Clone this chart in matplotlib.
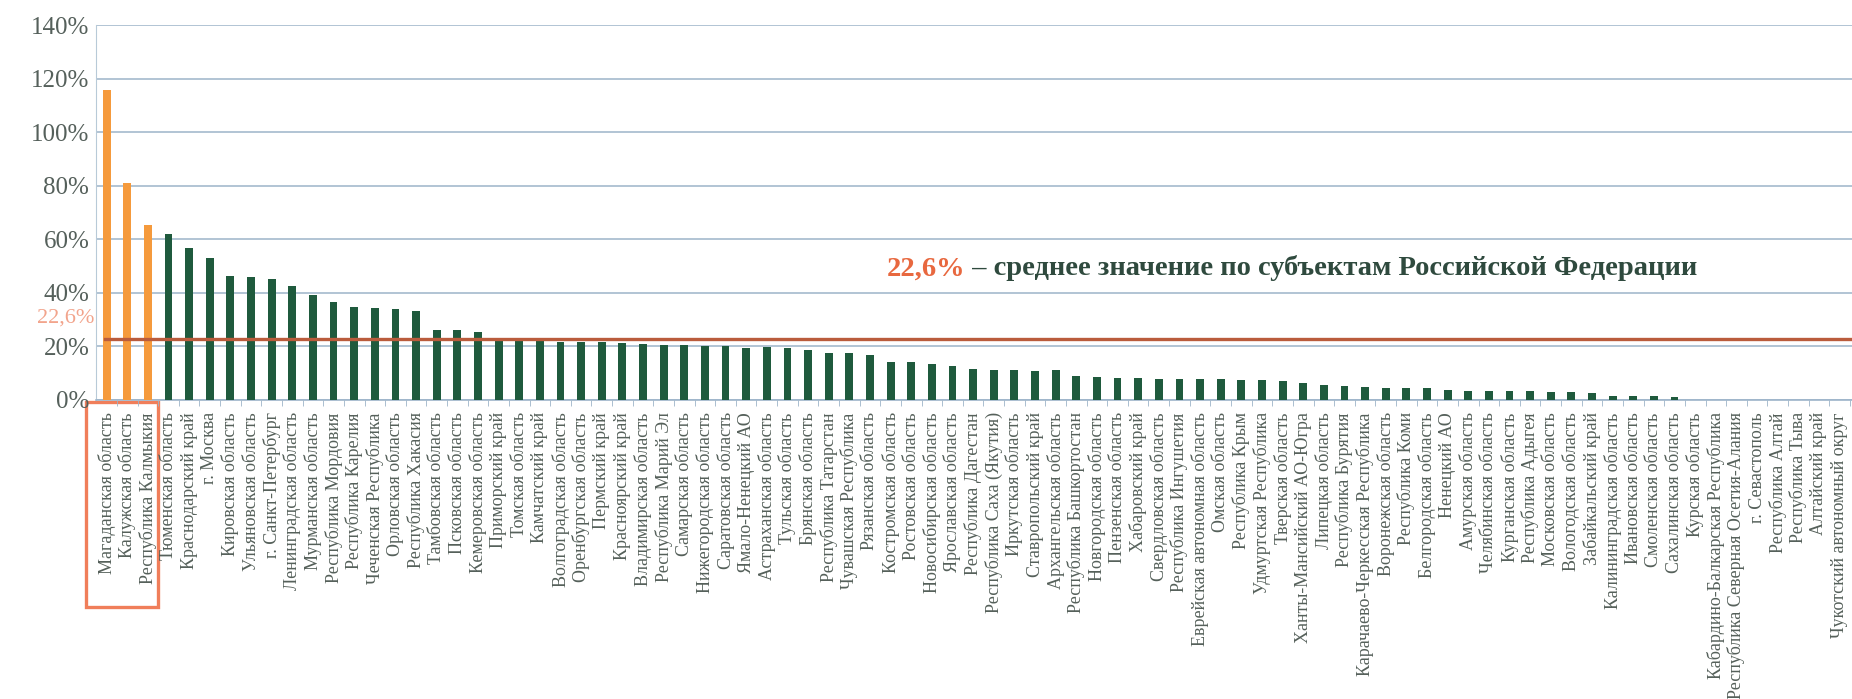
#!/usr/bin/env python3
"""Share by region bar chart with the federal mean line"""

import numpy as np
import matplotlib

matplotlib.use("Agg")
import matplotlib.pyplot as plt
from matplotlib.patches import Rectangle
from matplotlib.ticker import FixedLocator, PercentFormatter

regions = [
    "Магаданская область", "Калужская область", "Республика Калмыкия",
    "Тюменская область", "Краснодарский край", "г. Москва",
    "Кировская область", "Ульяновская область", "г. Санкт-Петербург",
    "Ленинградская область", "Мурманская область", "Республика Мордовия",
    "Республика Карелия", "Чеченская Республика", "Орловская область",
    "Республика Хакасия", "Тамбовская область", "Псковская область",
    "Кемеровская область", "Приморский край", "Томская область",
    "Камчатский край", "Волгоградская область", "Оренбургская область",
    "Пермский край", "Красноярский край", "Владимирская область",
    "Республика Марий Эл", "Самарская область", "Нижегородская область",
    "Саратовская область", "Ямало-Ненецкий АО", "Астраханская область",
    "Тульская область", "Брянская область", "Республика Татарстан",
    "Чувашская Республика", "Рязанская область", "Костромская область",
    "Ростовская область", "Новосибирская область", "Ярославская область",
    "Республика Дагестан", "Республика Саха (Якутия)", "Иркутская область",
    "Ставропольский край", "Архангельская область", "Республика Башкортостан",
    "Новгородская область", "Пензенская область", "Хабаровский край",
    "Свердловская область", "Республика Ингушетия",
    "Еврейская автономная область", "Омская область", "Республика Крым",
    "Удмуртская Республика", "Тверская область", "Ханты-Мансийский АО-Югра",
    "Липецкая область", "Республика Бурятия",
    "Карачаево-Черкесская Республика", "Воронежская область",
    "Республика Коми", "Белгородская область", "Ненецкий АО",
    "Амурская область", "Челябинская область", "Курганская область",
    "Республика Адыгея", "Московская область", "Вологодская область",
    "Забайкальский край", "Калининградская область", "Ивановская область",
    "Смоленская область", "Сахалинская область", "Курская область",
    "Кабардино-Балкарская Республика", "Республика Северная Осетия-Алания",
    "г. Севастополь", "Республика Алтай", "Республика Тыва",
    "Алтайский край", "Чукотский автономный округ",
]

values = [
    115.6, 80.9, 65.5, 61.9, 56.9, 53.1, 46.3, 46.0, 45.0, 42.5,
    39.0, 36.5, 34.6, 34.2, 34.0, 33.1, 26.2, 26.1, 25.4, 22.5,
    22.5, 22.5, 21.7, 21.5, 21.5, 21.4, 21.0, 20.5, 20.4, 20.2,
    20.0, 19.4, 19.6, 19.4, 18.8, 17.5, 17.5, 16.8, 14.3, 14.0,
    13.4, 12.5, 11.6, 11.0, 11.0, 10.9, 11.0, 8.9, 8.5, 8.1,
    8.1, 7.9, 7.8, 7.6, 7.6, 7.4, 7.3, 7.2, 6.3, 5.7,
    5.1, 4.9, 4.5, 4.5, 4.3, 3.8, 3.4, 3.3, 3.3, 3.2,
    2.8, 2.8, 2.7, 1.6, 1.5, 1.3, 1.0, 0.0, 0.0, 0.0,
    0.0, 0.0, 0.0, 0.0, 0.0,
]

mean_value = 22.6
mean_label = "22,6%"
mean_text = " – среднее значение по субъектам Российской Федерации"
yticks = [0, 20, 40, 60, 80, 100, 120, 140]
highlighted = 3

plt.rcParams.update({"font.family": ["Liberation Serif", "DejaVu Serif"]})

fig = plt.figure(figsize=(18.52, 6.99), dpi=100)
ax = fig.add_axes([0.052, 0.428, 0.948, 0.536])

x = np.arange(len(regions))
colors = ["#F59A3C" if i < highlighted else "#1F5A3D" for i in x]
ax.bar(x, values, width=0.38, color=colors, zorder=3)

ax.axhline(mean_value, xmin=0.005, color="#BA5C3C", linewidth=2.4, zorder=4)

ax.set_xlim(-0.5, len(regions) - 0.4)
ax.set_ylim(0, 140)
ax.yaxis.set_major_locator(FixedLocator(yticks))
ax.yaxis.set_major_formatter(PercentFormatter(decimals=0))
ax.grid(axis="y", color="#9DB4C9", linewidth=1.1, zorder=0)
ax.tick_params(axis="y", length=0, labelsize=18, labelcolor="#55605B", pad=5)

ax.set_xticks(x)
ax.set_xticklabels(regions, rotation=90, ha="center", va="top",
                   fontsize=13, color="#55605A")
ax.set_xticks(x + 0.5, minor=True)
ax.tick_params(axis="x", which="major", length=0, pad=9)
ax.tick_params(axis="x", which="minor", length=4, color="#9DB4C9")

for side in ("top", "right"):
    ax.spines[side].set_visible(False)
ax.spines["left"].set_color("#B8CAD8")
ax.spines["bottom"].set_color("#9DB4C9")
ax.spines["bottom"].set_linewidth(1.2)

# mean value label at the left of the axis
ax.text(-0.6, 30.5, mean_label, ha="right", va="center",
        fontsize=16, color="#F2A48C", clip_on=False)

t1 = ax.text(37.8, 48.9, mean_label, ha="left", va="center",
             fontsize=20.5, fontweight="bold", color="#E8683F")
ax.annotate(mean_text, xy=(1, 0), xycoords=t1, va="bottom", ha="left",
            fontsize=20.5, fontweight="bold", color="#2F4A3E")

# frame around the leading regions
ax.add_patch(Rectangle((-1.02, -0.005), 3.5, -0.547,
                       transform=ax.get_xaxis_transform(), fill=False,
                       edgecolor="#F07E5A", linewidth=2.4, clip_on=False))

fig.savefig("out.png", dpi=100)
